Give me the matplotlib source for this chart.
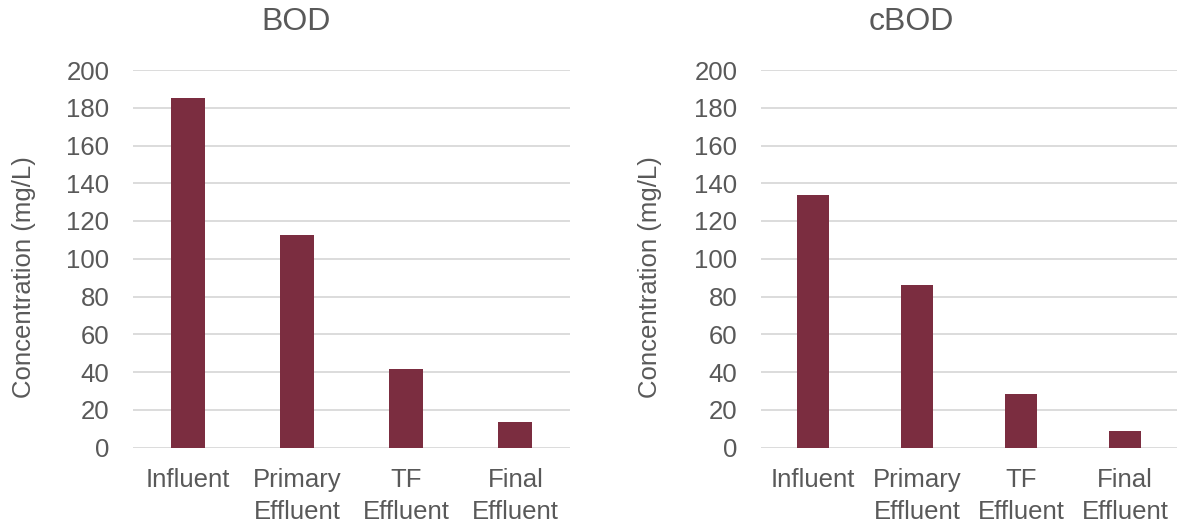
import matplotlib.pyplot as plt

# Sample points and measured concentrations (mg/L)
stages = ['Influent', 'Primary\nEffluent', 'TF\nEffluent', 'Final\nEffluent']
bod = [185.3, 112.6, 41.6, 13.7]
cbod = [133.8, 86.1, 28.3, 8.7]
yticks = [0, 20, 40, 60, 80, 100, 120, 140, 160, 180, 200]

plt.rcParams['font.family'] = ['Liberation Sans', 'DejaVu Sans']
text_color = '#595959'
bar_color = '#7B2D40'

fig = plt.figure(figsize=(11.78, 5.26), dpi=100)
W, H = 1178, 526

def panel(rect, values, title, title_cx, label_x):
    left, top, right, bottom = rect
    ax = fig.add_axes([left / W, 1 - bottom / H, (right - left) / W, (bottom - top) / H])
    x = range(len(stages))
    ax.bar(x, values, width=0.31, color=bar_color, zorder=3)
    ax.set_xlim(-0.5, len(stages) - 0.5)
    ax.set_ylim(0, 200)
    ax.set_yticks(yticks)
    ax.set_xticks(list(x))
    ax.set_xticklabels(stages, va='top', linespacing=1.38)
    ax.yaxis.grid(True, color='#d9d9d9', linewidth=1.3, zorder=0)
    for s in ax.spines.values():
        s.set_visible(False)
    ax.tick_params(length=0, labelsize=18.5, colors=text_color)
    ax.tick_params(axis='y', pad=17)
    ax.tick_params(axis='x', pad=15)
    ax.set_ylabel('Concentration (mg/L)', fontsize=18.5, color=text_color)
    ax.yaxis.set_label_coords((label_x - left) / (right - left), (bottom - 277) / (bottom - top))
    ax.set_title(title, fontsize=23, color=text_color, pad=29,
                 x=(title_cx - left) / (right - left))
    return ax

panel((133, 70, 570, 447.5), bod, 'BOD', 296, 36)
panel((761, 70, 1177, 447.5), cbod, 'cBOD', 911.5, 662)

fig.savefig('out.png', dpi=100)
